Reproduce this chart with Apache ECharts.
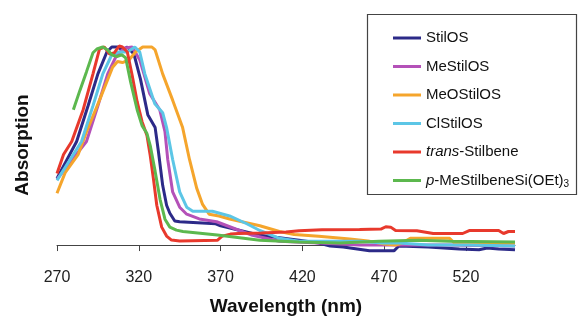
<!DOCTYPE html>
<html>
<head>
<meta charset="utf-8">
<script src="https://cdn.jsdelivr.net/npm/echarts@6/dist/echarts.min.js"></script>
<style>html,body{margin:0;padding:0;background:#fff}#c{width:581px;height:321px}</style>
</head>
<body>
<div id="c"></div>
<script>
// Tick labels (nm)
const xTicks = [270, 320, 370, 420, 470, 520];

// StilOS
const stilWl  = [270,282,289,295,300.5,303.5,307,310,313,317,321,325.5,330,332,334.6,337,339,342,345,367,370,382,394,418,430,437,445,461,476,479,497,516,528,533,540,550];
const stilAbs = [0.335,0.52,0.70,0.86,0.97,0.995,0.995,0.98,0.995,0.96,0.835,0.655,0.59,0.47,0.30,0.20,0.16,0.121,0.117,0.107,0.097,0.073,0.049,0.024,0.01,-0.005,-0.01,-0.029,-0.029,-0.005,-0.01,-0.02,-0.024,-0.015,-0.02,-0.024];

// MeStilOS
const meWl  = [270,288,295,301,306.6,311.5,316,320.6,326.7,332.8,336,337.7,340.7,345,349.3,357,367.6,381.6,389.5,406,430,455,510,550];
const meAbs = [0.33,0.52,0.70,0.86,0.956,0.99,0.995,0.93,0.76,0.68,0.57,0.43,0.267,0.19,0.155,0.131,0.117,0.073,0.049,0.019,0.01,0.0,0.0,-0.005];

// MeOStilOS
const meoWl  = [270,275,283,288,296,304,307,310,314,318,322.4,328,330,334.6,340.7,346.8,351,355.4,359,363,369,375.5,394,406,415,430,449,460,470,477,481,486,510,513,550];
const meoAbs = [0.26,0.364,0.456,0.568,0.728,0.893,0.922,0.917,0.93,0.97,0.995,0.995,0.98,0.86,0.728,0.59,0.43,0.286,0.204,0.155,0.146,0.131,0.097,0.068,0.053,0.044,0.03,0.02,0.005,0.0,0.01,0.034,0.034,0.01,0.01];

// ClStilOS
const clWl  = [270,285,292,298,303.5,308,313,317.6,320.6,323.7,329.8,334.6,337,340.7,345,349.3,353,365,375.5,386,394,406,418,455,469,479,497,522,550];
const clAbs = [0.325,0.52,0.70,0.86,0.956,0.97,0.97,0.995,0.97,0.86,0.71,0.665,0.59,0.43,0.267,0.19,0.17,0.17,0.146,0.107,0.073,0.034,0.019,0.019,0.01,0.01,0.0,0.0,-0.005];

// trans-Stilbene
const transWl  = [270,274,279,286,292,296,299,302,305,308,310,313,316,319,322,325,327,329,331,334,337,340,345,368,371,376,381,395,410,418,432,455,468,471,474,477,490,500,518,522,540,543,546,550];
const transAbs = [0.36,0.455,0.52,0.68,0.86,0.985,0.995,0.96,0.965,1.0,0.995,0.97,0.85,0.72,0.62,0.55,0.45,0.33,0.20,0.09,0.045,0.025,0.02,0.024,0.045,0.055,0.058,0.06,0.065,0.072,0.077,0.078,0.08,0.092,0.09,0.073,0.072,0.058,0.058,0.073,0.073,0.058,0.068,0.068];

// p-MeStilbeneSi(OEt)3
const siWl  = [280,284,288,292,294.4,298,301,303.5,306.6,309.6,312,315,319,322,325,327,330,333,336,339,343,347,368,394,418,443,467,491,510,550];
const siAbs = [0.68,0.777,0.87,0.966,0.985,0.995,0.98,0.956,0.947,0.956,0.94,0.82,0.68,0.60,0.56,0.50,0.37,0.23,0.13,0.09,0.075,0.068,0.05,0.024,0.015,0.01,0.019,0.024,0.019,0.015];

const names  = ['StilOS','MeStilOS','MeOStilOS','ClStilOS','trans-Stilbene','p-MeStilbeneSi(OEt)3'];
const colors = ['#2c2a88','#b451b8','#f5a52c','#5cc6e6','#e8392c','#5cb84e'];
const wls  = [stilWl, meWl, meoWl, clWl, transWl, siWl];
const abss = [stilAbs, meAbs, meoAbs, clAbs, transAbs, siAbs];

const chart = echarts.init(document.getElementById('c'), null, {renderer:'canvas'});
const FONT = 'Liberation Sans, Arial, sans-serif';

chart.setOption({
  animation: false,
  backgroundColor: '#ffffff',
  grid: { left: 57, top: 46, width: 458, height: 216.3 },
  xAxis: {
    type: 'value', min: 270, max: 550, interval: 50,
    splitLine: { show: false },
    axisLine: { onZero: true, lineStyle: { color: '#444', width: 1 } },
    axisTick: { show: true, length: 6, inside: false, customValues: xTicks, lineStyle: { color: '#444' } },
    axisLabel: { customValues: xTicks, margin: 15, fontSize: 16, color: '#222', fontFamily: FONT },
    name: 'Wavelength (nm)', nameLocation: 'middle', nameGap: 42,
    nameTextStyle: { fontSize: 19, fontWeight: 'bold', color: '#111', fontFamily: FONT }
  },
  yAxis: { type: 'value', min: -0.05, max: 1.0, show: false },
  legend: {
    orient: 'vertical', left: 388, top: 24, itemGap: 10.5,
    itemWidth: 28, itemHeight: 3, icon: 'rect',
    data: names,
    textStyle: {
      fontSize: 15, color: '#111', fontFamily: FONT, lineHeight: 18,
      rich: {
        n: { fontSize: 15, color: '#111', fontFamily: FONT, lineHeight: 18 },
        i: { fontSize: 15, color: '#111', fontFamily: FONT, fontStyle: 'italic', lineHeight: 18 },
        s: { fontSize: 10, color: '#111', fontFamily: FONT, lineHeight: 18, verticalAlign: 'bottom', padding: [6, 0, 0, 0] }
      }
    },
    formatter: function (name) {
      if (name === 'trans-Stilbene') return '{i|trans}{n|-Stilbene}';
      if (name === 'p-MeStilbeneSi(OEt)3') return '{i|p}{n|-MeStilbeneSi(OEt)}{s|3}';
      return '{n|' + name + '}';
    }
  },
  graphic: [
    { type: 'rect', shape: { x: 367.5, y: 14.5, width: 209, height: 180 }, style: { fill: 'none', stroke: '#444', lineWidth: 1.2 }, z: 100 },
    { type: 'text', x: 23, y: 145, rotation: Math.PI / 2,
      style: { text: 'Absorption', font: 'bold 19px Liberation Sans, Arial, sans-serif', fill: '#111', align: 'center', verticalAlign: 'middle' } }
  ],
  series: names.map((n, k) => ({
    name: n, type: 'line', showSymbol: false, symbol: 'none',
    color: colors[k],
    lineStyle: { width: 3, color: colors[k] },
    clip: false,
    data: wls[k].map((w, i) => [w, abss[k][i]])
  }))
});
</script>
</body>
</html>
